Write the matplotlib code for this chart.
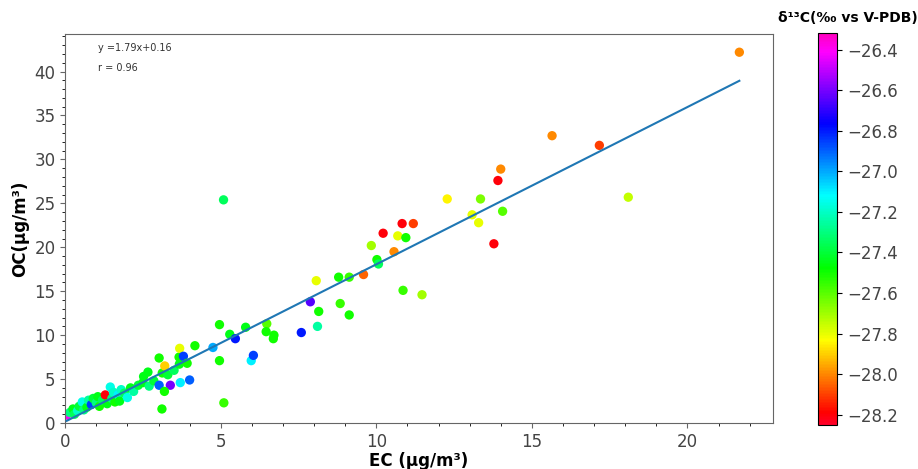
import numpy as np
import matplotlib
matplotlib.use("Agg")
import matplotlib.pyplot as plt
from matplotlib.ticker import MultipleLocator

# EC, OC (ug/m3) and d13C values
ec = np.array([0.05, 0.15, 0.25, 0.3, 0.4, 0.45, 0.55, 0.6, 0.7, 0.75,
               0.84, 0.9, 1.0, 1.05, 1.1, 1.2, 1.29, 1.35, 1.45, 1.5,
               1.55, 1.6, 1.7, 1.75, 1.8, 1.9, 2.0, 2.1, 2.2, 2.35,
               2.5, 2.52, 2.66, 2.7, 2.85, 3.02, 3.12, 3.2, 3.02, 3.38,
               3.19, 3.11, 3.3, 3.5, 3.66, 3.67, 3.68, 3.8, 3.92, 3.7,
               4.0, 4.17, 4.75, 4.96, 4.96, 5.09, 5.1, 5.29, 5.47, 5.8,
               5.98, 6.05, 6.48, 6.46, 6.71, 6.69, 7.59, 7.88, 8.07, 8.11,
               8.15, 8.79, 8.84, 9.13, 9.13, 9.59, 9.84, 10.02, 10.07, 10.22,
               10.57, 10.69, 10.83, 10.86, 10.95, 11.19, 11.47, 12.28, 13.08, 13.29,
               13.35, 13.78, 13.91, 14.0, 14.06, 15.65, 17.17, 18.1, 21.67])
oc = np.array([0.9, 1.2, 1.6, 1.0, 1.4, 1.9, 2.4, 1.5, 1.8, 2.6,
               2.1, 2.8, 2.3, 3.0, 1.9, 2.6, 3.2, 2.2, 4.1, 2.8,
               3.5, 2.4, 3.2, 2.5, 3.8, 3.4, 2.9, 4.0, 3.6, 4.3,
               4.6, 5.3, 5.8, 4.2, 4.8, 7.4, 5.7, 6.5, 4.3, 4.3,
               3.6, 1.6, 5.5, 6.0, 7.5, 6.7, 8.5, 7.6, 6.8, 4.6,
               4.9, 8.8, 8.6, 11.2, 7.1, 25.4, 2.3, 10.1, 9.6, 10.9,
               7.1, 7.7, 11.3, 10.4, 10.0, 9.6, 10.3, 13.8, 16.2, 11.0,
               12.7, 16.6, 13.6, 16.6, 12.3, 16.9, 20.2, 18.6, 18.1, 21.6,
               19.5, 21.3, 22.7, 15.1, 21.1, 22.7, 14.6, 25.5, 23.7, 22.8,
               25.5, 20.4, 27.6, 28.9, 24.1, 32.7, 31.6, 25.7, 42.2])
d13c = np.array([-26.4, -27.3, -27.45, -27.35, -27.2, -27.4, -27.15, -27.3, -27.45, -27.25,
                 -26.85, -27.4, -27.3, -27.45, -27.5, -27.35, -28.2, -27.45, -27.15, -27.3,
                 -27.2, -27.5, -27.1, -27.45, -27.2, -27.35, -27.15, -27.45, -27.25, -27.4,
                 -27.45, -27.45, -27.45, -27.3, -27.4, -27.5, -27.5, -27.9, -26.9, -26.6,
                 -27.5, -27.5, -27.4, -27.35, -27.5, -27.45, -27.8, -26.85, -27.5, -27.1,
                 -26.9, -27.5, -27.0, -27.5, -27.5, -27.35, -27.55, -27.45, -26.8, -27.45,
                 -27.1, -26.85, -27.6, -27.5, -27.5, -27.5, -26.8, -26.65, -27.8, -27.25,
                 -27.5, -27.5, -27.55, -27.55, -27.5, -28.05, -27.7, -27.5, -27.35, -28.2,
                 -28.0, -27.8, -28.2, -27.55, -27.5, -28.1, -27.7, -27.85, -27.8, -27.8,
                 -27.65, -28.2, -28.2, -28.0, -27.6, -28.0, -28.1, -27.75, -28.0])

slope, intercept, r = 1.79, 0.16, 0.96

fig = plt.figure(figsize=(9.18, 4.69), dpi=100)
ax = fig.add_axes([0.071, 0.098, 0.771, 0.83])
cax = fig.add_axes([0.891, 0.094, 0.021, 0.835])

sc = ax.scatter(ec, oc, c=d13c, cmap="gist_rainbow", vmin=-28.25, vmax=-26.32,
                s=45, linewidths=0, zorder=2)
xl = np.array([ec.min(), ec.max()])
ax.plot(xl, slope * xl + intercept, color="#1f77b4", lw=1.5, zorder=3)

ax.set_xlim(0, 22.75)
ax.set_ylim(0, 44.3)
ax.xaxis.set_major_locator(MultipleLocator(5))
ax.xaxis.set_minor_locator(MultipleLocator(1))
ax.yaxis.set_major_locator(MultipleLocator(5))
ax.yaxis.set_minor_locator(MultipleLocator(1))
ax.tick_params(labelsize=12, labelcolor="#444444", color="#666666")
for s in ax.spines.values():
    s.set_color("#666666")

ax.set_xlabel("EC (μg/m³)", fontsize=12, fontweight="bold", labelpad=1)
ax.set_ylabel("OC(μg/m³)", fontsize=12, fontweight="bold", labelpad=4)

ax.text(0.047, 0.964, "y =%.2fx+%.2f" % (slope, intercept), transform=ax.transAxes,
        fontsize=7, va="center", color="#333333")
ax.text(0.047, 0.913, "r = %.2f" % r, transform=ax.transAxes,
        fontsize=7, va="center", color="#333333")

cb = fig.colorbar(sc, cax=cax)
cb.set_ticks(np.arange(-28.2, -26.3, 0.2))
cb.ax.tick_params(labelsize=12, labelcolor="#444444")
fig.text(848 / 918, 1 - 18 / 469, "δ¹³C(‰ vs V-PDB)", ha="center", va="center",
         fontsize=10, fontweight="bold")

fig.savefig("out.png", dpi=100)
